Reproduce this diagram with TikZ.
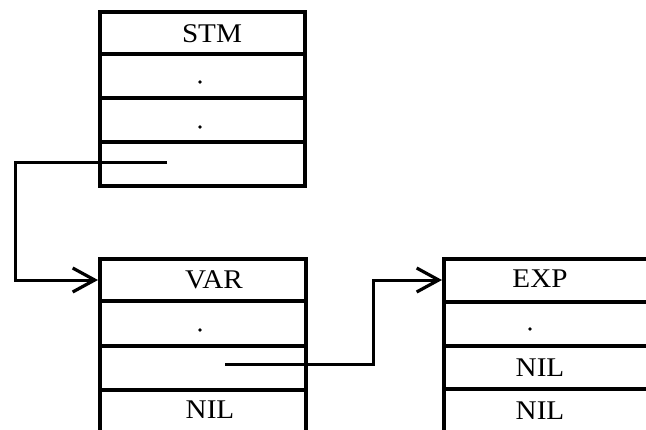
\documentclass[tikz,border=0pt]{standalone}
\usepackage{fontspec}
\setmainfont{Liberation Serif}[FakeStretch=1.08]
\usetikzlibrary{arrows.meta}
\tikzset{
  cell/.style={draw, line width=3.8pt, inner sep=0pt, anchor=north west},
  lbl/.style={inner sep=0pt, anchor=base, font=\fontsize{27}{27}\selectfont},
  dotmark/.style={circle, fill, inner sep=0pt, minimum size=3.6pt},
  link/.style={line width=3pt, -{Straight Barb[length=22pt,width=24pt,line width=3.2pt]}},
}
\begin{document}
\begin{tikzpicture}[x=1pt,y=-1pt]
\clip (0,0) rectangle (646,429);
\fill[white] (0,0) rectangle (646,429);
% top box (STM)
\node[cell, minimum width=205pt, minimum height=42pt] (s1) at (98,10) {};
\node[cell, minimum width=205pt, minimum height=44pt] (s2) at (98,52) {};
\node[cell, minimum width=205pt, minimum height=44pt] (s3) at (98,96) {};
\node[cell, minimum width=205pt, minimum height=44pt] (s4) at (98,140) {};
\node[lbl] (stm) at (212,42) {STM};
\node[dotmark] (sd1) at (200,82) {};
\node[dotmark] (sd2) at (200,127) {};
% bottom left box (VAR)
\node[cell, minimum width=206pt, minimum height=42pt] (v1) at (98,257) {};
\node[cell, minimum width=206pt, minimum height=45pt] (v2) at (98,299) {};
\node[cell, minimum width=206pt, minimum height=44pt] (v3) at (98,344) {};
\node[cell, minimum width=206pt, minimum height=44pt] (v4) at (98,388) {};
\node[lbl] (var) at (214,288) {VAR};
\node[dotmark] (vd) at (200,330) {};
\node[lbl] (vnil) at (210,418) {NIL};
% right box (EXP)
\node[cell, minimum width=220pt, minimum height=43pt] (e1) at (442,257) {};
\node[cell, minimum width=220pt, minimum height=44pt] (e2) at (442,300) {};
\node[cell, minimum width=220pt, minimum height=43pt] (e3) at (442,344) {};
\node[cell, minimum width=220pt, minimum height=45pt] (e4) at (442,387) {};
\node[lbl] (exp) at (540,287) {EXP};
\node[dotmark] (ed) at (530,329) {};
\node[lbl] (enil1) at (540,376) {NIL};
\node[lbl] (enil2) at (540,419) {NIL};
% connectors
\coordinate (p1) at (167,162);
\coordinate (p2) at (225,364);
\draw[link] (p1) -- (15,162) -- (15,280) -- (v1.west |- 0,280);
\draw[link] (p2) -- (373,364) -- (373,280) -- (e1.west |- 0,280);
\end{tikzpicture}
\end{document}
